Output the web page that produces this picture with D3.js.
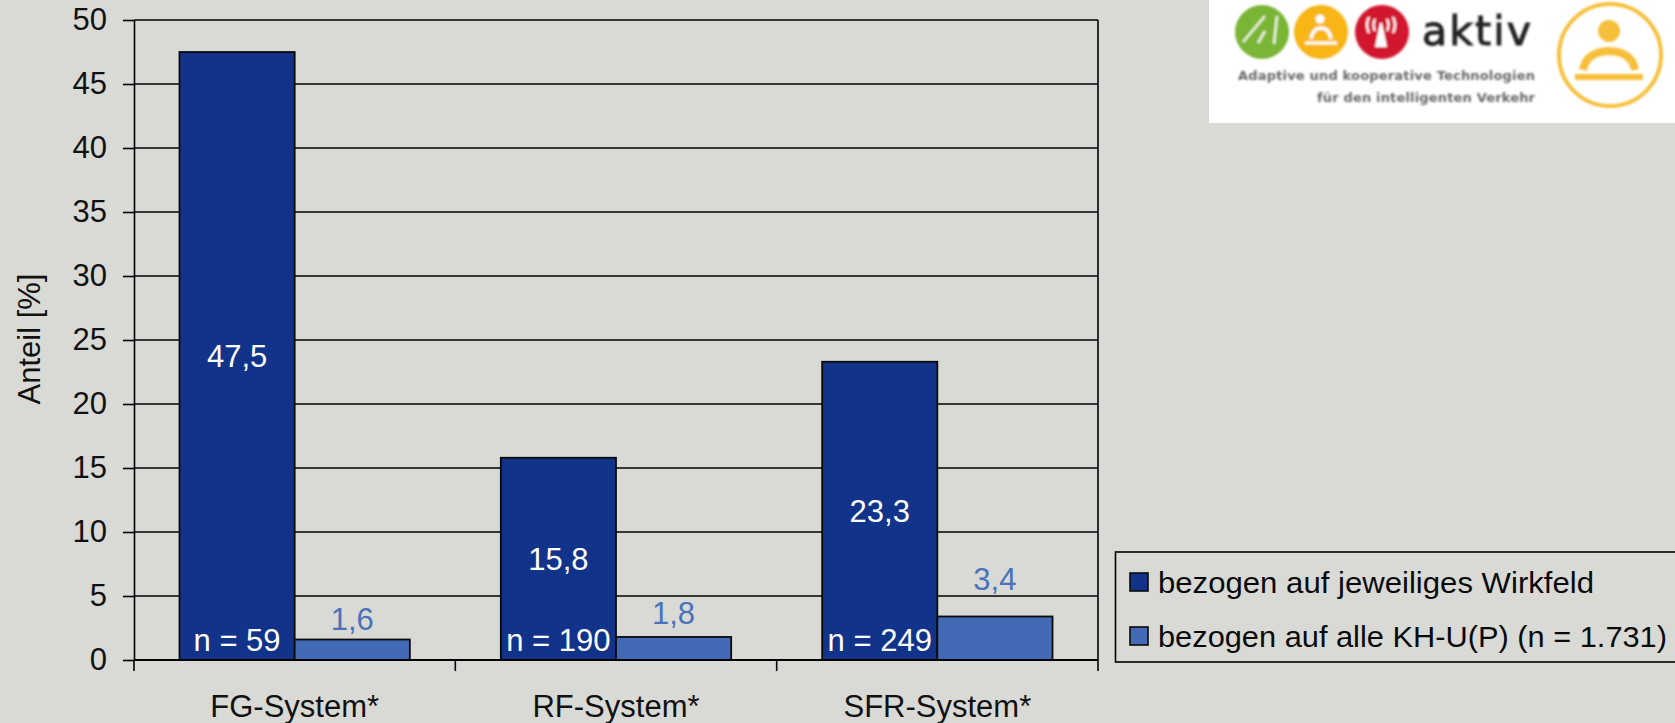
<!DOCTYPE html>
<html lang="de">
<head>
<meta charset="utf-8">
<title>Anteil nach System</title>
<script src="https://cdn.jsdelivr.net/npm/d3@7/dist/d3.min.js"></script>
<style>
  html, body { margin: 0; padding: 0; background: #d9dad5; overflow: hidden; }
  svg { display: block; font-family: "Liberation Sans", Arial, sans-serif; }
</style>
</head>
<body>
<svg id="chart" width="1675" height="723"></svg>
<script>
const categories = ["FG-System*", "RF-System*", "SFR-System*"];
const seriesNames = ["bezogen auf jeweiliges Wirkfeld", "bezogen auf alle KH-U(P) (n = 1.731)"];
const fieldShare = [47.5, 15.8, 23.3];
const allShare = [1.6, 1.8, 3.4];
const sampleSizes = [59, 190, 249];
const yTicks = [0, 5, 10, 15, 20, 25, 30, 35, 40, 45, 50];
const yTitle = "Anteil [%]";

const DARK = "#12338a", LIGHT = "#436bb5", LABEL_BLUE = "#4a72bb", INK = "#000";
const FONT_SIZE = 31;
const fmt = v => String(v.toFixed(1)).replace(".", ",");

const svg = d3.select("#chart");
const plot = { left: 134, right: 1098, top: 20, bottom: 660 };

const y = d3.scaleLinear().domain([0, 50]).range([plot.bottom, plot.top]);
const x0 = d3.scaleBand().domain(categories).range([plot.left, plot.right]);
const x1 = d3.scaleBand().domain([0, 1]).range([0, x0.bandwidth()])
  .paddingInner(0).paddingOuter(0.395);

// Horizontal gridlines across the plot width.
svg.append("g").selectAll("line").data(yTicks).join("line")
  .attr("x1", plot.left).attr("x2", plot.right)
  .attr("y1", d => y(d)).attr("y2", d => y(d))
  .attr("stroke", INK).attr("stroke-width", 1.6);

// Plot frame on the right side.
svg.append("line").attr("x1", plot.right).attr("x2", plot.right)
  .attr("y1", plot.top).attr("y2", plot.bottom)
  .attr("stroke", INK).attr("stroke-width", 1.6);

// One group per system: dark bar, light bar and their labels.
const groups = svg.append("g").selectAll("g").data(categories).join("g")
  .attr("transform", d => `translate(${x0(d)},0)`);

groups.append("rect")
  .attr("x", x1(0)).attr("width", x1.bandwidth())
  .attr("y", (d, i) => y(fieldShare[i]))
  .attr("height", (d, i) => y(0) - y(fieldShare[i]))
  .attr("fill", DARK).attr("stroke", "#0a0a0a").attr("stroke-width", 1.8);

groups.append("rect")
  .attr("x", x1(1)).attr("width", x1.bandwidth())
  .attr("y", (d, i) => y(allShare[i]))
  .attr("height", (d, i) => y(0) - y(allShare[i]))
  .attr("fill", LIGHT).attr("stroke", "#0a0a0a").attr("stroke-width", 1.8);

groups.append("text")
  .attr("x", x1(0) + x1.bandwidth() / 2)
  .attr("y", (d, i) => (y(fieldShare[i]) + y(0)) / 2)
  .attr("dy", "0.36em").attr("text-anchor", "middle")
  .attr("font-size", FONT_SIZE).attr("fill", "#fff")
  .text((d, i) => fmt(fieldShare[i]));

groups.append("text")
  .attr("x", x1(0) + x1.bandwidth() / 2)
  .attr("y", y(0) - 9)
  .attr("text-anchor", "middle")
  .attr("font-size", FONT_SIZE).attr("fill", "#fff")
  .text((d, i) => `n = ${sampleSizes[i]}`);

// The small-bar labels sit at slightly different heights above their bars.
const labelLift = [10, 13, 26.5];
groups.append("text")
  .attr("x", x1(1) + x1.bandwidth() / 2)
  .attr("y", (d, i) => y(allShare[i]) - labelLift[i])
  .attr("text-anchor", "middle")
  .attr("font-size", FONT_SIZE).attr("fill", LABEL_BLUE)
  .text((d, i) => fmt(allShare[i]));

// Value axis.
const yAxis = d3.axisLeft(y).tickValues(yTicks).tickSizeInner(11).tickSizeOuter(0).tickPadding(16);
const yG = svg.append("g").attr("transform", `translate(${plot.left},0)`).call(yAxis);
yG.select(".domain").attr("stroke", INK).attr("stroke-width", 1.6);
yG.selectAll(".tick line").attr("stroke", INK).attr("stroke-width", 1.6);
yG.selectAll(".tick text").attr("font-size", FONT_SIZE).attr("font-family", "inherit").attr("fill", "#111");

// Category axis with ticks on the group boundaries.
const boundaries = d3.scaleLinear().domain([0, categories.length]).range([plot.left, plot.right]);
const xG = svg.append("g").attr("transform", `translate(0,${plot.bottom})`);
xG.append("line").attr("x1", plot.left).attr("x2", plot.right)
  .attr("stroke", INK).attr("stroke-width", 1.8);
xG.selectAll("line.tick").data(d3.range(categories.length + 1)).join("line").attr("class", "tick")
  .attr("x1", d => boundaries(d)).attr("x2", d => boundaries(d))
  .attr("y1", 0).attr("y2", 11)
  .attr("stroke", INK).attr("stroke-width", 1.6);
xG.selectAll("text").data(categories).join("text")
  .attr("x", d => x0(d) + x0.bandwidth() / 2)
  .attr("y", 57).attr("text-anchor", "middle")
  .attr("font-size", FONT_SIZE).attr("fill", "#111")
  .text(d => d);

svg.append("text")
  .attr("transform", `translate(40,${(plot.top + plot.bottom) / 2 - 1}) rotate(-90)`)
  .attr("text-anchor", "middle").attr("font-size", FONT_SIZE).attr("fill", "#111")
  .text(yTitle);

// Legend, whose box runs off the right edge of the page.
const legend = svg.append("g");
legend.append("rect").attr("x", 1115.5).attr("y", 552).attr("width", 600).attr("height", 110)
  .attr("fill", "none").attr("stroke", INK).attr("stroke-width", 1.6);
const legendRows = legend.selectAll("g").data(seriesNames).join("g")
  .attr("transform", (d, i) => `translate(1130,${573 + i * 54})`);
legendRows.append("rect").attr("width", 18).attr("height", 18)
  .attr("fill", (d, i) => i ? LIGHT : DARK).attr("stroke", "#0a0a0a").attr("stroke-width", 1.6);
legendRows.append("text").attr("x", 28).attr("y", 19.5)
  .attr("font-size", 29.5).attr("fill", "#0a0a0a").attr("textLength", (d, i) => i ? 509 : 436)
  .attr("lengthAdjust", "spacingAndGlyphs")
  .text(d => d);

// Programme logo in the top-right corner, softly blurred.
const defs = svg.append("defs");
defs.append("filter").attr("id", "soft").append("feGaussianBlur").attr("stdDeviation", 0.8);
const logo = svg.append("g");
logo.append("rect").attr("x", 1209).attr("y", 0).attr("width", 466).attr("height", 123).attr("fill", "#fff");
const art = logo.append("g").attr("filter", "url(#soft)");

const YELLOW = "#f7b515", RING = "#f6bf3a";
[[1262, "#7ab534"], [1321, YELLOW], [1382, "#d2152f"]].forEach(([cx, c]) => {
  art.append("circle").attr("cx", cx).attr("cy", 32).attr("r", 27).attr("fill", c);
});
// Road lines in the green badge.
art.append("path").attr("d", "M1243 42 L1265 16 M1258 43 L1265 31 M1274 44 L1277 16")
  .attr("stroke", "#eaf3da").attr("stroke-width", 2.6).attr("fill", "none");
// Driver in the yellow badge.
art.append("circle").attr("cx", 1320).attr("cy", 19).attr("r", 4.5).attr("fill", "#fff");
art.append("path").attr("d", "M1311 39 Q1313 28 1321 28 Q1329 28 1331 39")
  .attr("stroke", "#fff").attr("stroke-width", 3.4).attr("fill", "none");
art.append("line").attr("x1", 1305).attr("x2", 1337).attr("y1", 43).attr("y2", 43)
  .attr("stroke", "#fff").attr("stroke-width", 3);
// Antenna in the red badge.
art.append("path").attr("d", "M1380 23 L1382 23 L1387 47 L1375 47 Z").attr("fill", "#fff");
art.append("path").attr("d", "M1375 19 Q1372 25 1375 31 M1387 19 Q1390 25 1387 31 M1369 17 Q1365 25 1369 33 M1393 17 Q1397 25 1393 33")
  .attr("stroke", "#fff").attr("stroke-width", 2.2).attr("fill", "none");

art.append("text").attr("x", 1422).attr("y", 45)
  .attr("font-family", "'DejaVu Sans', sans-serif").attr("font-size", 41).attr("fill", "#222")
  .attr("stroke", "#222").attr("stroke-width", 1)
  .attr("textLength", 109).attr("lengthAdjust", "spacing").text("aktiv");
art.append("text").attr("x", 1535).attr("y", 80).attr("text-anchor", "end")
  .attr("font-family", "'DejaVu Sans', sans-serif").attr("font-weight", 700).attr("font-size", 13).attr("fill", "#666")
  .attr("textLength", 297).attr("lengthAdjust", "spacing").text("Adaptive und kooperative Technologien");
art.append("text").attr("x", 1535).attr("y", 102).attr("text-anchor", "end")
  .attr("font-family", "'DejaVu Sans', sans-serif").attr("font-weight", 700).attr("font-size", 13).attr("fill", "#666")
  .attr("textLength", 218).attr("lengthAdjust", "spacing").text("für den intelligenten Verkehr");

// Enlarged driver symbol.
art.append("circle").attr("cx", 1610).attr("cy", 55).attr("r", 51).attr("fill", "none").attr("stroke", RING).attr("stroke-width", 4);
art.append("circle").attr("cx", 1609).attr("cy", 31).attr("r", 11).attr("fill", RING);
art.append("path").attr("d", "M1583 70 Q1586 52 1609 51 Q1632 52 1635 70")
  .attr("stroke", RING).attr("stroke-width", 8).attr("fill", "none");
art.append("line").attr("x1", 1575).attr("x2", 1643).attr("y1", 77).attr("y2", 77)
  .attr("stroke", RING).attr("stroke-width", 6);
</script>
</body>
</html>
